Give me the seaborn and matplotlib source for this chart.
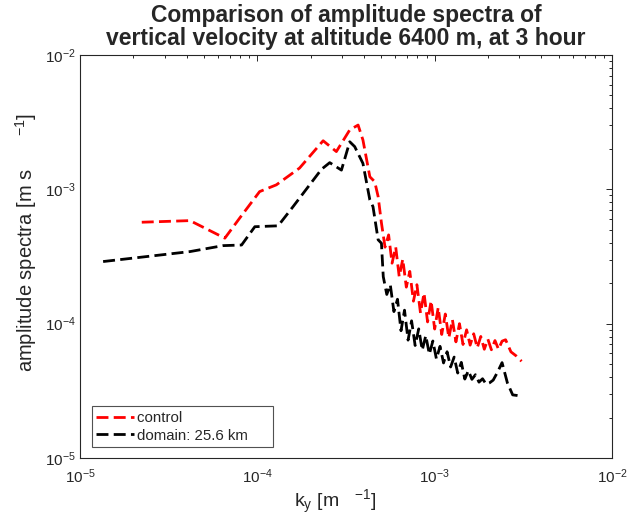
import matplotlib
matplotlib.use("Agg")
import matplotlib.pyplot as plt
from matplotlib.ticker import LogLocator, NullFormatter
import seaborn as sns
import pandas as pd

# ---- data ----
control_k = [2.23e-5, 4.17e-5, 6.56e-5, 7.96e-5, 1.03e-4, 1.28e-4, 1.73e-4, 2.35e-4,
             2.79e-4, 3.32e-4, 3.70e-4, 3.94e-4, 4.31e-4, 4.59e-4, 4.80e-4,
             5.01e-4, 5.25e-4, 5.50e-4, 5.75e-4, 6.03e-4, 6.31e-4, 6.61e-4, 6.92e-4,
             7.24e-4, 7.59e-4, 7.94e-4, 8.32e-4, 8.71e-4, 9.12e-4, 9.55e-4, 1.000e-3,
             1.047e-3, 1.096e-3, 1.148e-3, 1.202e-3, 1.259e-3, 1.318e-3, 1.380e-3,
             1.445e-3, 1.514e-3, 1.585e-3, 1.660e-3, 1.738e-3, 1.820e-3, 1.905e-3,
             1.995e-3, 2.089e-3, 2.188e-3, 2.291e-3, 2.399e-3, 2.512e-3, 2.692e-3,
             2.884e-3, 3.090e-3]
control_amp = [5.69e-4, 5.85e-4, 4.33e-4, 6.12e-4, 9.62e-4, 1.08e-3, 1.44e-3, 2.30e-3,
               1.91e-3, 2.77e-3, 3.01e-3, 2.33e-3, 1.24e-3, 1.14e-3, 8.83e-4,
               5.62e-4, 3.71e-4, 4.58e-4, 2.82e-4, 3.72e-4, 2.24e-4, 3.02e-4, 1.87e-4,
               2.45e-4, 1.47e-4, 1.95e-4, 1.20e-4, 1.69e-4, 1.03e-4, 1.48e-4, 9.12e-5,
               1.32e-4, 8.31e-5, 1.18e-4, 7.85e-5, 1.07e-4, 7.32e-5, 1.00e-4,
               7.00e-5, 9.00e-5, 6.92e-5, 8.41e-5, 6.61e-5, 8.03e-5, 6.45e-5,
               7.67e-5, 6.39e-5, 7.49e-5, 6.45e-5, 7.41e-5, 7.59e-5, 6.17e-5,
               5.75e-5, 5.25e-5]

domain_k = [1.35e-5, 4.17e-5, 6.41e-5, 8.15e-5, 9.68e-5, 1.31e-4, 1.59e-4, 2.30e-4,
            2.56e-4, 2.98e-4, 3.32e-4, 3.54e-4, 3.94e-4, 4.31e-4, 4.49e-4, 4.80e-4,
            5.01e-4, 5.13e-4, 5.37e-4, 5.62e-4, 5.89e-4, 6.17e-4, 6.46e-4, 6.76e-4,
            7.08e-4, 7.41e-4, 7.76e-4, 8.13e-4, 8.51e-4, 8.91e-4, 9.33e-4, 9.77e-4,
            1.023e-3, 1.072e-3, 1.122e-3, 1.175e-3, 1.230e-3, 1.288e-3, 1.349e-3,
            1.413e-3, 1.479e-3, 1.549e-3, 1.622e-3, 1.698e-3, 1.778e-3, 1.862e-3,
            1.950e-3, 2.042e-3, 2.138e-3, 2.265e-3, 2.399e-3, 2.570e-3, 2.754e-3,
            2.917e-3, 3.090e-3]
domain_amp = [2.90e-4, 3.44e-4, 3.81e-4, 3.85e-4, 5.27e-4, 5.35e-4, 7.43e-4, 1.41e-3,
              1.58e-3, 1.39e-3, 2.26e-3, 2.08e-3, 1.56e-3, 8.34e-4, 7.43e-4, 4.21e-4,
              3.97e-4, 2.24e-4, 1.65e-4, 1.95e-4, 1.23e-4, 1.52e-4, 8.86e-5, 1.26e-4,
              7.54e-5, 1.05e-4, 6.88e-5, 9.15e-5, 6.35e-5, 8.15e-5, 5.93e-5, 7.43e-5,
              5.46e-5, 6.78e-5, 5.10e-5, 6.18e-5, 4.76e-5, 5.64e-5, 4.29e-5,
              5.15e-5, 3.87e-5, 4.47e-5, 3.85e-5, 4.17e-5, 3.67e-5, 3.89e-5,
              3.55e-5, 3.63e-5, 3.80e-5, 4.37e-5, 5.13e-5, 3.63e-5, 2.95e-5,
              2.92e-5, 2.88e-5]

series_labels = ["control", "domain: 25.6 km"]
x_ticks = [1e-5, 1e-4, 1e-3, 1e-2]
x_tick_labels = ["10$^{-5}$", "10$^{-4}$", "10$^{-3}$", "10$^{-2}$"]
y_ticks = [1e-5, 1e-4, 1e-3, 1e-2]
y_tick_labels = ["10$^{-5}$", "10$^{-4}$", "10$^{-3}$", "10$^{-2}$"]

# ---- style ----
sns.set_style("white")
plt.rcParams["font.family"] = ["Liberation Sans", "DejaVu Sans"]
plt.rcParams["mathtext.fontset"] = "custom"
plt.rcParams["mathtext.rm"] = "Liberation Sans"
plt.rcParams["mathtext.it"] = "Liberation Sans:italic"
plt.rcParams["mathtext.bf"] = "Liberation Sans:bold"

fig = plt.figure(figsize=(6.29, 5.23), dpi=100)
ax = fig.add_axes([80 / 629, 1 - 458 / 523, 532 / 629, 403 / 523])

df_c = pd.DataFrame({"k": control_k, "amp": control_amp})
df_d = pd.DataFrame({"k": domain_k, "amp": domain_amp})

dash = (0, (4.3, 1.9))
sns.lineplot(data=df_c, x="k", y="amp", ax=ax, color="#ff0000", lw=2,
             linestyle=dash, estimator=None, sort=False,
             label=series_labels[0] + "      ")
sns.lineplot(data=df_d, x="k", y="amp", ax=ax, color="black", lw=2,
             linestyle=dash, estimator=None, sort=False,
             label=series_labels[1] + "     ")

ax.set_xscale("log")
ax.set_yscale("log")
ax.set_xlim(1e-5, 1e-2)
ax.set_ylim(1e-5, 1e-2)
ax.set_xticks(x_ticks)
ax.set_xticklabels(x_tick_labels)
ax.set_yticks(y_ticks)
ax.set_yticklabels(y_tick_labels)
for axis in (ax.xaxis, ax.yaxis):
    axis.set_minor_locator(LogLocator(base=10, subs=range(2, 10), numticks=20))
    axis.set_minor_formatter(NullFormatter())

edge = "#262626"
for s in ax.spines.values():
    s.set_color(edge)
    s.set_linewidth(0.8)
    s.set_visible(True)
ax.tick_params(which="both", direction="in", top=True, right=True,
               colors=edge, labelcolor="#262626", width=0.7)
ax.tick_params(which="major", length=4.5, labelsize=11)
ax.tick_params(which="minor", length=2.5)
ax.tick_params(axis="x", which="major", pad=7)
ax.tick_params(axis="y", which="major", pad=3)
ax.grid(False)

ax.set_xlabel("k$_\\mathrm{y}$ [m   $^{-1}$]", fontsize=14, color="#262626", labelpad=1)
ax.xaxis.set_label_coords(0.48, -0.075)
ax.set_ylabel("amplitude spectra [m s      $^{-1}$]", fontsize=14.5, color="#262626")
ax.yaxis.set_label_coords(-0.078, 0.535)
ax.set_title("Comparison of amplitude spectra of\nvertical velocity at altitude 6400 m, at 3 hour",
             fontsize=16.5, fontweight="bold", pad=7, linespacing=1.0)

leg = ax.legend(loc="lower left", bbox_to_anchor=(0.022, 0.027), borderaxespad=0,
                fontsize=10.8, frameon=True, fancybox=False, handlelength=2.5,
                handletextpad=0.25, borderpad=0.3, labelspacing=0.25)
leg.get_frame().set_edgecolor(edge)
leg.get_frame().set_linewidth(0.8)

fig.savefig("out.png", dpi=100)
